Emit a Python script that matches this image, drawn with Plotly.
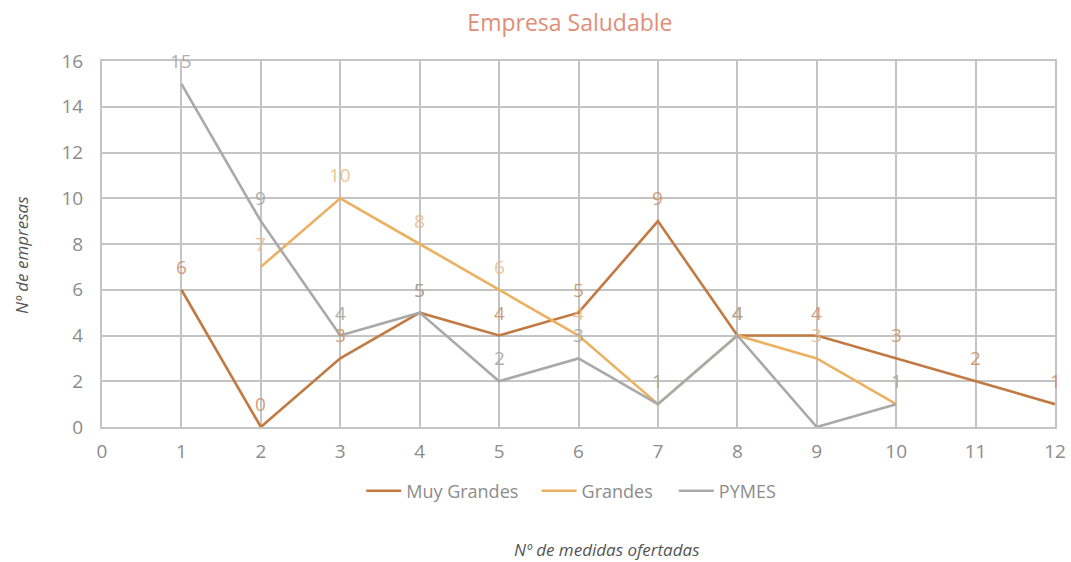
import plotly.graph_objects as go

# Nº de medidas ofertadas vs. Nº de empresas, by company size
muy_grandes_x = [1, 2, 3, 4, 5, 6, 7, 8, 9, 10, 11, 12]
muy_grandes_y = [6, 0, 3, 5, 4, 5, 9, 4, 4, 3, 2, 1]

grandes_x = [2, 3, 4, 5, 6, 7, 8, 9, 10]
grandes_y = [7, 10, 8, 6, 4, 1, 4, 3, 1]

pymes_x = [1, 2, 3, 4, 5, 6, 7, 8, 9, 10]
pymes_y = [15, 9, 4, 5, 2, 3, 1, 4, 0, 1]
pymes_unlabeled_x = [9]

x_ticks = list(range(0, 13))
y_ticks = list(range(0, 17, 2))

FONT = "Open Sans, Noto Sans, sans-serif"

# name, xs, ys, line colour, label colour, unlabeled x, legend id, legend x (paper)
series = [
    ("Muy Grandes", muy_grandes_x, muy_grandes_y, "#C27A43", "rgba(205,140,95,0.85)", [], "legend", 0.272),
    ("Grandes", grandes_x, grandes_y, "#EBB161", "rgba(230,185,130,0.85)", [], "legend2", 0.456),
    ("PYMES", pymes_x, pymes_y, "#A9A9A9", "rgba(165,165,165,0.9)", pymes_unlabeled_x, "legend3", 0.600),
]

fig = go.Figure()
annotations = []
legends = {}
for name, xs, ys, color, label_color, skip, leg, leg_x in series:
    fig.add_trace(go.Scatter(
        x=xs, y=ys, name=name, mode="lines", legend=leg,
        line=dict(color=color, width=2.6),
        hoverinfo="skip",
    ))
    legends[leg] = dict(
        orientation="h", x=leg_x, xanchor="left", y=-0.175, yanchor="middle",
        font=dict(family=FONT, size=18, color="#8C8C8C"),
        itemwidth=35, bgcolor="rgba(0,0,0,0)",
    )
    for x, y in zip(xs, ys):
        if x in skip:
            continue
        annotations.append(dict(
            x=x, y=y, xref="x", yref="y", text=str(y), showarrow=False,
            yshift=23, font=dict(family=FONT, size=19, color=label_color),
        ))

annotations.append(dict(
    text="<i>Nº de medidas ofertadas</i>", xref="paper", yref="paper",
    x=0.529, y=-0.334, xanchor="center", yanchor="middle", showarrow=False,
    font=dict(family=FONT, size=17, color="#555555"),
))
annotations.append(dict(
    text="<i>Nº de empresas</i>", xref="paper", yref="paper",
    x=-0.084, y=0.47, xanchor="center", yanchor="middle", showarrow=False,
    textangle=-90, font=dict(family=FONT, size=17, color="#555555"),
))

fig.update_layout(
    width=1071, height=562,
    margin=dict(l=102, r=16, t=61, b=135, autoexpand=False),
    paper_bgcolor="white", plot_bgcolor="white",
    font=dict(family=FONT, size=19, color="#8C8C8C"),
    title=dict(text="Empresa Saludable", x=0.491, xref="paper", xanchor="center",
               y=0.96, yanchor="middle",
               font=dict(family=FONT, size=23, color="#E08E78")),
    showlegend=True,
    annotations=annotations,
    **legends,
)
fig.update_xaxes(
    range=[0, 12], tickvals=x_ticks, ticktext=[str(v) for v in x_ticks],
    showgrid=True, gridcolor="#C4C4C4", gridwidth=2,
    showline=True, linecolor="#C4C4C4", linewidth=2, mirror=True,
    zeroline=False, ticks="", automargin=False, ticklabelstandoff=6,
    tickfont=dict(size=19, color="#8C8C8C"),
)
fig.update_yaxes(
    range=[0, 16], tickvals=y_ticks, ticktext=[str(v) for v in y_ticks],
    showgrid=True, gridcolor="#C4C4C4", gridwidth=2,
    showline=True, linecolor="#C4C4C4", linewidth=2, mirror=True,
    zeroline=False, ticks="", automargin=False, ticklabelstandoff=13,
    tickfont=dict(size=19, color="#8C8C8C"),
)

fig.write_html("out.html")
